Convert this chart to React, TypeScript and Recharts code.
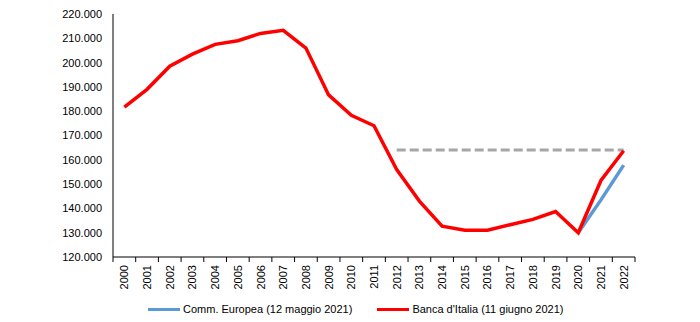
import React from 'react';
import { LineChart, Line, XAxis, YAxis } from 'recharts';

const years = ['2000', '2001', '2002', '2003', '2004', '2005', '2006', '2007', '2008', '2009', '2010', '2011',
  '2012', '2013', '2014', '2015', '2016', '2017', '2018', '2019', '2020', '2021', '2022'];

const bancaItalia = [181700, 189000, 198500, 203500, 207500, 209000, 212000, 213300, 206000, 186700, 178300, 174000,
  156000, 143000, 132700, 131000, 131000, 133300, 135500, 138700, 130000, 151500, 163700];

const commEuropea = [null, null, null, null, null, null, null, null, null, null, null, null,
  null, null, null, null, null, null, null, null, 130000, 143500, 157800];

const livello2012 = [null, null, null, null, null, null, null, null, null, null, null, null,
  164000, 164000, 164000, 164000, 164000, 164000, 164000, 164000, 164000, 164000, 164000];

const yTicks = [120000, 130000, 140000, 150000, 160000, 170000, 180000, 190000, 200000, 210000, 220000];

const legendItems = [
  { label: 'Comm. Europea (12 maggio 2021)', color: '#5B9BD5' },
  { label: "Banca d'Italia (11 giugno 2021)", color: '#FF0000' },
];

const W = 700;
const H = 322;
const margin = { top: 14, right: 65, left: 0, bottom: 0 };
const yAxisWidth = 113;
const xAxisHeight = 65;
const font = '"Liberation Sans", Arial, sans-serif';

const data = years.map((year, i) => ({
  year,
  banca: bancaItalia[i],
  comm: commEuropea[i],
  livello: livello2012[i],
}));

const bandWidth = (W - margin.left - margin.right - yAxisWidth) / years.length;

function YearTick(props: any) {
  const { x, y, payload, index } = props;
  const axisY = y - 6;
  const left = x - bandWidth / 2;
  const right = x + bandWidth / 2;
  return (
    <g>
      <line x1={left} y1={axisY} x2={left} y2={axisY + 5} stroke="#000" strokeWidth={1} />
      {index === years.length - 1 && (
        <line x1={right} y1={axisY} x2={right} y2={axisY + 5} stroke="#000" strokeWidth={1} />
      )}
      <text
        x={x}
        y={axisY + 8}
        transform={`rotate(-90, ${x}, ${axisY + 8})`}
        textAnchor="end"
        dominantBaseline="central"
        fontSize={11}
        fontFamily={font}
        fill="#000"
      >
        {payload.value}
      </text>
    </g>
  );
}

const formatY = (v: number) => `${Math.round(v / 1000)}.000`;

export default function App() {
  return (
    <div style={{ position: 'absolute', left: 0, top: 0, width: W, height: H, background: '#fff' }}>
      <LineChart width={W} height={H} data={data} margin={margin}>
        <XAxis
          dataKey="year"
          scale="band"
          interval={0}
          height={xAxisHeight}
          axisLine={{ stroke: '#000', strokeWidth: 1 }}
          tickLine={false}
          tickSize={6}
          tickMargin={0}
          tick={<YearTick />}
        />
        <YAxis
          domain={[120000, 220000]}
          ticks={yTicks}
          width={yAxisWidth}
          axisLine={{ stroke: '#000', strokeWidth: 1 }}
          tickLine={false}
          tickSize={6}
          tickMargin={5}
          tickFormatter={formatY}
          tick={{ fontSize: 11, fontFamily: font, fill: '#000' }}
          allowDataOverflow
        />
        <Line
          dataKey="livello"
          stroke="#A6A6A6"
          strokeWidth={3}
          strokeDasharray="9 4"
          dot={false}
          connectNulls={false}
          isAnimationActive={false}
        />
        <Line
          dataKey="comm"
          stroke="#5B9BD5"
          strokeWidth={3.5}
          dot={false}
          isAnimationActive={false}
        />
        <Line
          dataKey="banca"
          stroke="#FF0000"
          strokeWidth={3.5}
          dot={false}
          isAnimationActive={false}
        />
      </LineChart>
      <div
        style={{
          position: 'absolute',
          top: 303,
          left: 148,
          display: 'flex',
          alignItems: 'center',
          fontFamily: font,
          fontSize: 11,
          color: '#000',
        }}
      >
        {legendItems.map((item, i) => (
          <div key={item.label} style={{ display: 'flex', alignItems: 'center', marginRight: i === 0 ? 25 : 0 }}>
            <span style={{ display: 'inline-block', width: 32, height: 3, background: item.color, marginRight: 3 }} />
            <span>{item.label}</span>
          </div>
        ))}
      </div>
    </div>
  );
}
